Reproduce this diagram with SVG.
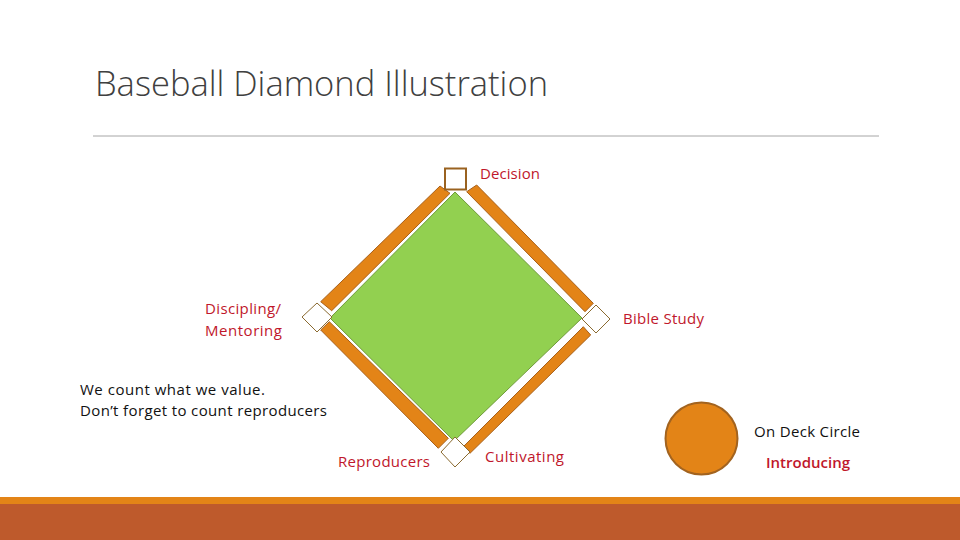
<svg xmlns="http://www.w3.org/2000/svg" width="960" height="540" viewBox="0 0 960 540">
<style>
.red{font-family:"Open Sans","Liberation Sans",sans-serif;font-size:15px;fill:#c0172b}
.blk{font-family:"Open Sans","Liberation Sans",sans-serif;font-size:15px;fill:#111}
.bar{fill:#e38417;stroke:#a8601a;stroke-width:1}
.base{fill:#fff;stroke:#8a6a30;stroke-width:1}
</style>
<rect width="960" height="540" fill="#fff"/>
<text x="95" y="96" font-family="Open Sans, Liberation Sans, sans-serif" font-weight="300" font-size="34" fill="#404040" textLength="453" lengthAdjust="spacingAndGlyphs">Baseball Diamond Illustration</text>
<line x1="93" y1="136" x2="879" y2="136" stroke="#a6a6a6" stroke-width="1"/>
<g id="field">
<polygon points="455,192 582,318 454,441 330,318" fill="#92d050" stroke="#6f9a3a" stroke-width="1"/>
</g>
<g id="bars">
<polygon class="bar" points="320.7,301.7 440,186 450,193.3 331.7,310.7"/>
<polygon class="bar" points="466.7,191.7 476.7,185 593.3,303.3 585,311.7"/>
<polygon class="bar" points="320.7,330 329.3,321.7 448.3,438.3 438.3,448.3"/>
<polygon class="bar" points="583.3,326.7 590.7,335 470,453.3 463.3,446.7"/>
</g>
<g id="home-top">
<rect x="445" y="168.5" width="21" height="21" fill="#fff" stroke="#9a6220" stroke-width="2"/>
<text class="red" x="480" y="179" textLength="60">Decision</text>
</g>
<g id="base-left">
<polygon class="base" points="302,317 317,303 332,317 317,332"/>
<text class="red" x="205" y="314" textLength="76">Discipling/</text>
<text class="red" x="205" y="336" textLength="77">Mentoring</text>
</g>
<g id="base-right">
<polygon class="base" points="582,319 596,305 610,319 596,333"/>
<text class="red" x="623" y="324" textLength="81">Bible Study</text>
</g>
<g id="base-bottom">
<polygon class="base" points="441,452 455,437 470,452 455,467"/>
<text class="red" x="338" y="467" textLength="92">Reproducers</text>
<text class="red" x="485" y="462" textLength="79">Cultivating</text>
</g>
<g id="note">
<text class="blk" x="80" y="395" textLength="185">We count what we value.</text>
<text class="blk" x="80" y="416" textLength="247">Don’t forget to count reproducers</text>
</g>
<g id="on-deck">
<circle cx="701.5" cy="438.5" r="36" fill="#e38417" stroke="#a2631f" stroke-width="2"/>
<text class="blk" x="754" y="437" textLength="106">On Deck Circle</text>
<text class="red" x="766" y="468" font-weight="600" textLength="84">Introducing</text>
</g>
<rect x="0" y="497" width="960" height="7" fill="#e38417"/>
<rect x="0" y="504" width="960" height="36" fill="#be5a2c"/>
</svg>
